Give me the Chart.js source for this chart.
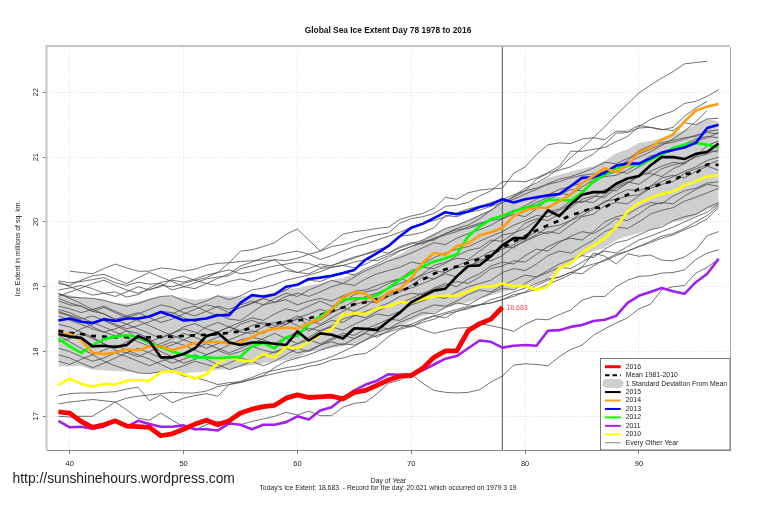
<!DOCTYPE html>
<html>
<head>
<meta charset="utf-8">
<title>Global Sea Ice Extent</title>
<script src="https://cdn.jsdelivr.net/npm/chart.js@4"></script>
<style>
  html, body { margin: 0; padding: 0; background: #fff; }
  canvas { display: block; }
</style>
</head>
<body>
<canvas id="ice-chart" width="760" height="506"></canvas>
<script>
const days = [39,40,41,42,43,44,45,46,47,48,49,
    50,51,52,53,54,55,56,57,58,59,
    60,61,62,63,64,65,66,67,68,69,
    70,71,72,73,74,75,76,77,78,79,
    80,81,82,83,84,85,86,87,88,89,
    90,91,92,93,94,95,96,97];
const xTickValues = [40,50,60,70,80,90];
const yTickValues = [17,18,19,20,21,22];

const ice2016 = [17.07,17.05,16.92,16.83,16.87,16.93,16.85,16.84,16.83,16.70,16.73,
    16.80,16.88,16.94,16.87,16.93,17.05,17.11,17.15,17.17,17.28,
    17.33,17.29,17.30,17.31,17.27,17.37,17.40,17.48,17.56,17.62,
    17.63,17.74,17.91,18.01,18.01,18.32,18.43,18.50,18.683];
const ice2015 = [18.27,18.23,18.21,18.08,18.09,18.07,18.10,18.24,18.16,17.91,17.91,
    17.96,18.05,18.24,18.29,18.14,18.10,18.14,18.14,18.12,18.10,
    18.31,18.17,18.28,18.26,18.20,18.36,18.35,18.33,18.47,18.60,
    18.76,18.85,18.94,18.97,19.16,19.32,19.33,19.47,19.64,19.75,
    19.75,19.96,20.18,20.09,20.27,20.42,20.46,20.46,20.59,20.67,
    20.71,20.87,21.00,21.00,20.97,21.05,21.08,21.21];
const ice2014 = [18.26,18.27,18.18,17.98,17.96,17.99,18.03,18.02,18.08,18.08,18.02,
    18.07,18.13,18.14,18.15,18.12,18.14,18.22,18.31,18.35,18.37,
    18.35,18.44,18.50,18.65,18.83,18.92,18.89,18.76,18.91,18.97,
    19.13,19.37,19.52,19.49,19.63,19.67,19.79,19.84,19.91,20.09,
    20.18,20.22,20.22,20.32,20.42,20.60,20.71,20.83,20.77,20.87,
    21.08,21.14,21.27,21.35,21.55,21.72,21.78,21.82];
const ice2013 = [18.48,18.51,18.46,18.44,18.50,18.47,18.51,18.51,18.54,18.61,18.55,
    18.48,18.49,18.51,18.56,18.56,18.75,18.87,18.85,18.88,19.00,
    19.03,19.12,19.14,19.17,19.21,19.26,19.42,19.52,19.63,19.78,
    19.91,19.97,20.06,20.15,20.12,20.16,20.23,20.27,20.35,20.30,
    20.35,20.38,20.41,20.43,20.55,20.68,20.69,20.76,20.87,20.90,
    20.90,20.98,21.07,21.11,21.15,21.22,21.45,21.50];
const ice2012 = [18.20,18.08,17.98,18.10,18.19,18.23,18.25,18.22,18.13,18.07,18.00,
    17.95,17.91,17.91,17.90,17.91,17.92,18.08,18.13,18.05,18.22,
    18.24,18.42,18.54,18.65,18.80,18.82,18.82,18.87,18.98,19.11,
    19.21,19.31,19.39,19.44,19.50,19.78,19.93,20.04,20.09,20.16,
    20.22,20.25,20.34,20.34,20.33,20.45,20.63,20.73,20.83,20.87,
    20.88,20.96,21.04,21.14,21.19,21.22,21.19,21.15];
const ice2011 = [16.93,16.83,16.84,16.81,16.84,16.93,16.84,16.93,16.88,16.84,16.84,
    16.86,16.80,16.80,16.78,16.89,16.87,16.80,16.87,16.87,16.91,
    17.00,16.95,17.09,17.14,17.28,17.40,17.49,17.55,17.65,17.64,
    17.65,17.71,17.80,17.89,17.93,18.05,18.17,18.15,18.06,18.09,
    18.10,18.09,18.32,18.33,18.38,18.41,18.47,18.49,18.55,18.75,
    18.86,18.92,18.98,18.93,18.89,19.07,19.20,19.43];
const ice2010 = [17.48,17.58,17.50,17.46,17.50,17.49,17.55,17.56,17.55,17.68,17.70,
    17.65,17.58,17.65,17.82,17.91,17.86,17.85,17.96,17.91,18.07,
    18.05,18.15,18.26,18.34,18.57,18.59,18.58,18.67,18.70,18.76,
    18.76,18.81,18.85,18.86,18.86,18.93,19.00,19.00,19.05,19.01,
    19.01,18.95,19.00,19.29,19.36,19.53,19.63,19.75,19.92,20.16,
    20.29,20.37,20.43,20.47,20.56,20.63,20.70,20.72];
const meanIce = [18.32,18.29,18.27,18.24,18.23,18.22,18.22,18.21,18.22,18.23,18.23,
    18.24,18.25,18.26,18.27,18.29,18.31,18.37,18.41,18.43,18.47,
    18.48,18.51,18.56,18.63,18.68,18.73,18.76,18.81,18.87,18.93,
    19.00,19.11,19.20,19.27,19.31,19.37,19.43,19.49,19.60,19.70,
    19.78,19.87,19.95,20.02,20.10,20.16,20.22,20.22,20.34,20.42,
    20.51,20.52,20.59,20.63,20.74,20.75,20.89,20.88];
const sdUpper = [18.90,18.87,18.83,18.82,18.79,18.75,18.74,18.77,18.82,18.85,18.85,
    18.83,18.80,18.82,18.87,18.85,18.85,18.86,18.87,18.92,18.97,
    18.98,19.02,19.05,19.10,19.14,19.20,19.26,19.33,19.42,19.50,
    19.60,19.72,19.83,19.90,19.96,20.03,20.11,20.19,20.27,20.40,
    20.50,20.58,20.68,20.73,20.78,20.82,20.86,20.94,21.06,21.12,
    21.22,21.25,21.29,21.35,21.42,21.50,21.59,21.55];
const sdLower = [17.77,17.77,17.78,17.72,17.71,17.70,17.69,17.68,17.66,17.68,17.67,
    17.66,17.68,17.69,17.72,17.73,17.76,17.79,17.82,17.85,17.87,
    17.90,18.00,18.02,18.05,18.08,18.12,18.18,18.25,18.32,18.39,
    18.47,18.55,18.60,18.67,18.72,18.76,18.82,18.87,18.92,18.97,
    19.02,19.05,19.12,19.25,19.38,19.47,19.55,19.60,19.72,19.78,
    19.83,19.88,19.94,20.00,20.03,20.10,20.20,20.24];

// every other year, thin lines
const thinYears = [
    [null,19.24,19.22,19.20,19.28,19.35,19.29,19.24,19.24,19.29,19.27,
     19.24,19.27,19.33,19.36,19.37,19.55,19.57,19.62,19.68,19.81,
     19.89,19.72,19.55,19.68,19.81,19.85,19.87,19.90,19.92,20.04,
     20.09,20.13,20.21,20.38,20.35,20.45,20.49,20.51,20.52,20.75,
     20.85,21.04,21.19,21.22,21.21,21.28,21.30,21.27,21.40,21.40,
     21.49,21.46,21.43,21.41,21.53,21.50,21.59,21.60],
    [19.09,19.06,19.08,19.11,19.14,19.06,19.02,19.07,19.04,19.05,18.95,
     19.00,19.06,19.12,19.15,19.17,19.28,19.32,19.36,19.42,19.40,
     19.44,19.50,19.55,19.62,19.65,19.70,19.76,19.80,19.83,19.98,
     20.05,20.08,20.13,20.24,20.26,20.30,20.40,20.48,20.62,20.63,
     20.62,20.68,20.76,20.86,21.09,21.09,21.12,21.15,21.24,21.32,
     21.47,21.58,21.65,21.71,21.83,21.86,21.94,22.04],
    [18.89,18.84,18.83,18.82,18.79,18.74,18.70,18.74,18.80,18.85,18.86,
     18.78,18.72,18.78,18.86,18.80,18.86,18.95,18.98,19.03,19.10,
     19.14,19.18,19.23,19.30,19.33,19.29,19.35,19.44,19.51,19.60,
     19.66,19.72,19.80,19.90,19.95,20.02,20.10,20.18,20.29,20.40,
     20.52,20.60,20.70,20.83,20.99,21.14,21.30,21.47,21.65,21.82,
     21.99,22.11,22.22,22.32,22.44,22.46,22.48,null],
    [18.62,18.56,18.50,18.55,18.48,18.42,18.35,18.40,18.46,18.52,18.58,
     18.66,18.70,18.62,18.55,18.60,18.68,18.74,18.82,18.88,18.95,
     19.05,19.10,19.08,19.15,19.22,19.18,19.28,19.35,19.45,19.55,
     19.62,19.70,19.72,19.82,19.90,19.95,20.05,20.18,20.32,20.38,
     20.48,20.66,20.75,20.80,20.85,20.95,21.05,21.20,21.37,21.38,
     21.45,21.46,21.42,21.46,21.63,21.76,21.86,null],
    [19.07,19.00,18.93,18.87,18.90,18.92,18.84,18.88,18.98,19.07,19.10,
     19.07,19.12,19.18,19.22,19.26,19.20,19.23,19.28,19.32,19.35,
     19.38,19.36,19.30,19.33,19.38,19.44,19.51,19.57,19.62,19.78,
     19.80,19.84,19.91,20.10,20.08,20.15,20.18,20.24,20.30,20.35,
     20.43,20.50,20.59,20.66,20.70,20.76,20.83,20.92,20.90,20.98,
     21.05,21.12,21.20,21.23,21.28,21.34,21.38,21.36],
    [19.05,19.02,19.10,19.17,19.19,19.12,19.05,19.14,19.22,19.15,19.08,
     19.00,18.97,19.05,19.13,19.20,19.32,19.38,19.45,19.48,19.52,
     19.55,19.50,19.42,19.48,19.55,19.62,19.66,19.72,19.78,19.84,
     19.92,19.98,20.02,20.08,20.14,20.20,20.24,20.30,20.35,20.42,
     20.48,20.52,20.58,20.62,20.68,20.72,20.74,20.78,20.85,20.92,
     21.00,21.08,21.18,21.28,21.40,21.55,21.72,null],
    [18.95,18.98,19.02,18.97,18.90,18.85,18.92,19.00,18.95,19.02,19.00,
     19.05,19.10,19.14,19.22,19.37,19.39,19.40,19.41,19.41,19.29,
     19.22,19.20,19.28,19.30,19.33,19.38,19.42,19.40,19.48,19.56,
     19.62,19.68,19.75,19.80,19.85,19.92,19.98,20.02,20.05,20.15,
     20.25,20.35,20.42,20.50,20.55,20.60,20.68,20.72,20.82,20.95,
     21.10,21.18,21.22,21.26,21.30,21.32,21.40,21.42],
    [18.85,18.92,18.98,19.05,19.10,19.02,18.95,18.90,18.96,19.00,19.12,
     19.16,19.10,19.05,19.02,19.08,19.12,19.08,19.15,19.20,19.25,
     19.22,19.28,19.35,19.32,19.40,19.46,19.50,19.55,19.52,19.62,
     19.68,19.66,19.74,19.82,19.88,19.90,19.96,20.05,20.10,20.18,
     20.22,20.30,20.38,20.44,20.42,20.54,20.65,20.70,20.72,20.80,
     20.90,21.02,21.05,21.10,21.20,21.28,21.32,21.30],
    [18.78,18.72,18.70,18.62,18.58,18.49,18.42,18.50,18.55,18.62,18.60,
     18.52,18.46,18.52,18.58,18.50,18.48,18.60,18.72,18.76,18.80,
     18.72,18.78,18.82,18.78,18.86,18.93,18.95,19.02,19.08,19.12,
     19.08,19.20,19.33,19.38,19.44,19.42,19.55,19.68,19.80,19.83,
     19.90,20.02,20.15,20.20,20.32,20.30,20.38,20.50,20.48,20.60,
     20.70,20.78,20.86,20.92,20.90,21.02,21.18,21.25],
    [18.60,18.55,18.48,18.38,18.30,18.24,18.32,18.20,18.15,18.22,18.28,
     18.38,18.43,18.35,18.30,18.38,18.45,18.52,18.48,18.58,18.66,
     18.62,18.70,18.78,18.70,18.76,18.88,18.92,18.96,19.05,19.12,
     19.25,19.30,19.28,19.36,19.48,19.56,19.60,19.72,19.70,19.82,
     19.98,20.05,20.02,20.12,20.22,20.35,20.40,20.38,20.52,20.60,
     20.72,20.75,20.70,20.82,20.90,21.02,21.10,21.08],
    [18.30,18.25,18.35,18.42,18.48,18.40,18.32,18.28,18.20,18.05,18.10,
     18.18,18.26,18.38,18.45,18.38,18.30,18.28,18.38,18.45,18.42,
     18.50,18.42,18.48,18.60,18.68,18.62,18.70,18.82,18.88,18.95,
     18.98,19.05,19.12,19.20,19.15,19.30,19.42,19.40,19.48,19.62,
     19.70,19.78,19.85,19.82,19.95,20.08,20.12,20.25,20.30,20.28,
     20.40,20.52,20.58,20.62,20.75,20.82,20.88,20.95],
    [18.90,18.82,18.74,18.65,18.70,18.62,18.55,18.48,18.40,18.32,18.25,
     18.18,18.12,18.05,18.12,18.18,18.25,18.32,18.28,18.38,18.46,
     18.55,18.48,18.42,18.52,18.62,18.72,18.78,18.75,18.85,18.92,
     19.02,19.15,19.12,19.22,19.30,19.32,19.38,19.50,19.62,19.60,
     19.72,19.80,19.92,19.95,20.02,20.10,20.20,20.32,20.35,20.40,
     20.42,20.55,20.68,20.72,20.68,20.78,20.86,20.80],
    [18.42,18.38,18.30,18.22,18.12,18.02,17.98,17.92,18.00,18.08,18.15,
     18.10,18.02,17.95,18.02,18.10,18.18,18.22,18.18,18.12,18.22,
     18.30,18.36,18.32,18.40,18.50,18.56,18.52,18.62,18.70,18.74,
     18.82,18.90,18.96,19.02,19.08,19.05,19.15,19.28,19.32,19.40,
     19.38,19.50,19.62,19.70,19.75,19.72,19.85,20.00,20.08,20.12,
     20.22,20.30,20.28,20.40,20.48,20.52,20.60,20.62],
    [18.15,18.20,18.28,18.20,18.12,18.05,18.15,18.22,18.12,18.00,17.92,
     17.98,18.05,18.12,18.05,17.98,18.05,18.12,18.20,18.28,18.20,
     18.12,18.22,18.32,18.38,18.33,18.42,18.50,18.58,18.55,18.62,
     18.72,18.78,18.85,18.82,18.92,19.00,19.05,19.10,19.22,19.28,
     19.25,19.35,19.48,19.55,19.52,19.62,19.72,19.85,19.92,19.90,
     20.00,20.12,20.18,20.22,20.32,20.38,20.45,20.52],
    [18.05,18.00,17.92,17.85,17.90,17.98,17.92,17.85,17.78,17.85,17.90,
     17.82,17.88,17.95,18.02,17.95,18.00,18.08,18.02,17.98,18.05,
     18.12,18.18,18.12,18.20,18.28,18.25,18.35,18.42,18.50,18.48,
     18.58,18.65,18.72,18.70,18.78,18.88,18.95,18.92,19.02,19.10,
     19.18,19.15,19.25,19.35,19.42,19.48,19.45,19.58,19.68,19.72,
     19.80,19.88,19.92,20.02,20.08,20.12,20.22,20.30],
    [17.85,17.80,17.88,17.95,18.02,18.10,18.02,17.95,17.88,17.80,17.72,
     17.78,17.85,17.80,17.75,17.82,17.90,17.85,17.92,18.00,18.05,
     17.98,18.02,18.10,18.15,18.10,18.20,18.28,18.22,18.32,18.40,
     18.38,18.48,18.55,18.52,18.62,18.68,18.72,18.75,18.80,18.85,
     18.92,19.02,19.10,19.15,19.22,19.20,19.32,19.42,19.50,19.55,
     19.62,19.70,19.78,19.82,19.90,20.00,20.10,20.25],
    [18.70,18.66,18.60,18.65,18.58,18.50,18.55,18.60,18.52,18.45,18.50,
     18.58,18.65,18.72,18.68,18.60,18.68,18.75,18.82,18.76,18.85,
     18.90,18.85,18.92,19.00,19.05,19.02,19.12,19.20,19.25,19.30,
     19.38,19.35,19.45,19.52,19.58,19.62,19.70,19.78,19.85,19.95,
     20.02,20.10,20.08,20.18,20.28,20.32,20.30,20.42,20.55,20.62,
     20.58,20.70,20.82,20.88,20.92,21.00,21.05,21.12],
    [18.55,18.48,18.42,18.35,18.30,18.35,18.42,18.35,18.28,18.20,18.28,
     18.35,18.30,18.22,18.30,18.38,18.32,18.40,18.45,18.40,18.48,
     18.40,18.32,18.40,18.48,18.45,18.55,18.62,18.68,18.75,18.85,
     18.90,18.88,18.98,19.05,19.00,19.12,19.20,19.32,19.38,19.35,
     19.48,19.58,19.55,19.68,19.78,19.85,19.82,19.92,20.05,20.02,
     20.12,20.25,20.30,20.28,20.40,20.50,20.58,20.55],
    [18.25,18.15,18.05,17.95,17.85,17.78,17.72,17.67,17.66,17.69,17.70,
     17.62,17.60,17.55,17.49,17.52,17.53,17.57,17.63,17.75,17.85,
     17.90,17.95,18.02,18.08,18.12,18.10,18.18,18.25,18.30,18.36,
     18.42,18.50,18.55,18.60,18.65,18.70,18.72,18.80,18.85,18.92,
     18.98,19.05,19.12,19.15,19.22,19.30,19.35,19.40,19.48,19.55,
     19.62,19.68,19.75,19.80,19.88,19.95,20.05,20.22],
    [18.65,18.60,18.52,18.45,18.38,18.30,18.22,18.15,18.08,18.12,18.20,
     18.28,18.22,18.15,18.22,18.30,18.42,18.48,18.42,18.35,18.42,
     18.52,18.58,18.65,18.60,18.68,18.78,18.85,18.90,18.98,19.05,
     19.10,19.18,19.25,19.22,19.32,19.40,19.45,19.55,19.58,19.65,
     19.75,19.85,19.82,19.90,20.02,20.15,20.22,20.30,20.42,20.50,
     20.48,20.55,20.62,20.70,20.78,20.85,20.95,21.00],
    [18.82,18.75,18.70,18.62,18.68,18.60,18.52,18.58,18.65,18.72,18.68,
     18.60,18.55,18.62,18.70,18.65,18.72,18.78,18.72,18.82,18.90,
     18.85,18.95,19.02,19.10,19.05,19.15,19.25,19.32,19.40,19.45,
     19.52,19.60,19.68,19.65,19.75,19.82,19.88,19.95,20.05,20.12,
     20.08,20.20,20.35,20.42,20.50,20.48,20.60,20.72,20.78,20.75,
     20.85,20.95,21.05,21.10,21.18,21.25,21.30,21.38],
    [17.95,17.90,17.82,17.75,17.82,17.90,17.98,18.05,17.98,17.90,17.82,
     17.88,17.95,17.88,17.80,17.72,17.78,17.85,17.78,17.85,17.95,
     18.05,18.00,18.10,18.18,18.25,18.20,18.30,18.38,18.35,18.45,
     18.52,18.60,18.58,18.68,18.75,18.72,18.82,18.90,18.98,18.95,
     19.05,19.15,19.22,19.30,19.28,19.38,19.48,19.55,19.52,19.62,
     19.72,19.78,19.85,19.92,20.00,20.08,20.15,20.28],
    [17.32,17.35,17.36,17.36,17.37,17.38,17.42,17.45,17.24,17.33,17.21,
     17.28,17.32,17.35,17.31,17.49,17.54,17.60,17.67,17.71,17.75,
     17.78,17.82,17.86,17.92,18.00,18.08,18.18,18.30,18.35,18.40,
     18.41,18.34,18.28,18.32,18.36,18.37,18.43,18.40,18.36,18.31,
     18.42,18.50,18.49,18.57,18.64,18.79,18.85,18.85,19.00,19.10,
     19.16,19.17,19.21,19.22,19.26,19.42,19.52,19.57],
    [17.19,17.22,17.24,17.26,17.24,17.22,17.28,17.31,17.33,17.35,17.37,
     17.36,17.36,17.39,17.46,17.49,17.52,17.57,17.62,17.66,17.70,
     17.72,17.77,17.80,17.87,17.90,17.95,17.97,18.08,18.23,18.34,
     18.39,18.45,18.50,18.58,18.62,18.66,18.72,18.75,18.80,18.88,
     18.91,18.96,19.04,19.11,19.19,19.30,19.52,19.47,19.35,19.51,
     19.47,19.49,19.41,19.40,19.46,19.57,19.79,19.85],
    [17.00,16.99,17.00,17.00,17.11,17.22,17.10,16.97,16.94,17.05,16.94,
     16.84,16.79,16.87,16.92,16.90,16.87,16.92,16.96,17.00,17.06,
     17.02,17.08,17.01,17.01,17.14,17.20,17.22,17.35,17.51,17.56,
     17.65,17.51,17.40,17.37,17.36,17.37,17.41,17.53,17.62,17.79,
     17.81,17.80,17.78,17.92,18.03,18.10,18.25,18.35,18.44,18.52,
     18.66,18.73,18.95,19.00,19.02,19.21,19.30,19.43]
];

const xTitle = 'Day of Year';
const yTitle = 'Ice Extent in millions of sq. km.';
const mainTitle = 'Global Sea Ice Extent Day 78 1978 to 2016';
const footNote = "Today's Ice Extent: 18.683  - Record for the day: 20.621 which occurred on 1979 3 19";
const siteUrl = 'http://sunshinehours.wordpress.com';
const todayDay = 78;
const todayLabel = '18.683';

const legendLabels = ['2016','Mean 1981-2010','1 Standard Deviation From Mean','2015','2014','2013','2012','2011','2010','Every Other Year'];
const legendColors = ['#ff0000','#000000','#cfcfcf','#000000','#ff9f0f','#0000ff','#00ff00','#a020f0','#ffff00','#555555'];

const FONT = '"Liberation Sans", Arial, sans-serif';
const xMin = 38, xMax = 98, yMin = 16.48, yMax = 22.7;

function toPoints(values) {
    return values.map((v, i) => ({ x: days[i], y: v }));
}

function lineSet(label, values, color, width) {
    return {
        label: label,
        data: toPoints(values),
        borderColor: color,
        borderWidth: width,
        pointRadius: 0,
        fill: false,
        tension: 0,
        borderJoinStyle: 'round'
    };
}

const meanSet = lineSet('Mean 1981-2010', meanIce, '#000000', 2.6);
meanSet.borderDash = [5, 6];

const upperSet = lineSet('1 Standard Deviation From Mean', sdUpper, 'rgba(0,0,0,0)', 0);
upperSet.fill = '+1';
upperSet.backgroundColor = '#cfcfcf';
const lowerSet = lineSet('lower', sdLower, 'rgba(0,0,0,0)', 0);

const todaySet = {
    label: 'today',
    data: [{ x: todayDay, y: yMin }, { x: todayDay, y: yMax }],
    borderColor: '#555555',
    borderWidth: 1,
    pointRadius: 0
};

const datasets = [
    lineSet('2016', ice2016, '#ff0000', 4.8),
    lineSet('2015', ice2015, '#000000', 2.6),
    lineSet('2014', ice2014, '#ff9f0f', 2.6),
    lineSet('2013', ice2013, '#0000ff', 2.6),
    lineSet('2012', ice2012, '#00ff00', 2.6),
    lineSet('2011', ice2011, '#a020f0', 2.6),
    lineSet('2010', ice2010, '#ffff00', 2.6),
    meanSet,
    todaySet
].concat(
    thinYears.map((values, i) => lineSet('year ' + i, values, '#4d4d4d', 0.8)),
    [upperSet, lowerSet]
);

function putText(ctx, text, x, y, size, color, align, weight) {
    ctx.font = (weight || 'normal') + ' ' + size + 'px ' + FONT;
    ctx.fillStyle = color;
    ctx.textAlign = align || 'left';
    ctx.textBaseline = 'middle';
    ctx.fillText(text, x, y);
}

function frameSide(ctx, color, width, x1, y1, x2, y2) {
    ctx.strokeStyle = color;
    ctx.lineWidth = width;
    ctx.beginPath();
    ctx.moveTo(x1, y1);
    ctx.lineTo(x2, y2);
    ctx.stroke();
}

const extras = {
    id: 'extras',
    afterDraw(chart) {
        const ctx = chart.ctx;
        const area = chart.chartArea;
        const xScale = chart.scales.x;
        const yScale = chart.scales.y;
        ctx.save();

        // plot frame
        frameSide(ctx, '#c4c4c4', 2, area.left, area.top - 1, area.right, area.top - 1);
        frameSide(ctx, '#c4c4c4', 2, area.left - 0.5, area.top - 2, area.left - 0.5, area.bottom);
        frameSide(ctx, '#a8a8a8', 1, area.right + 0.5, area.top, area.right + 0.5, area.bottom);
        frameSide(ctx, '#8a8a8a', 1, area.left, area.bottom + 0.5, area.right + 1, area.bottom + 0.5);

        // value at today's end of the 2016 line
        putText(ctx, todayLabel, xScale.getPixelForValue(todayDay) + 4, yScale.getPixelForValue(18.683) + 1, 7, '#ff4a4a');

        // legend box
        const boxLeft = 600.5, boxTop = 358.5;
        ctx.fillStyle = '#ffffff';
        ctx.fillRect(boxLeft, boxTop, area.right - boxLeft, area.bottom - boxTop);
        ctx.strokeStyle = '#777777';
        ctx.lineWidth = 1;
        ctx.strokeRect(boxLeft, boxTop, area.right - boxLeft, area.bottom - boxTop);

        legendLabels.forEach((label, i) => {
            const rowY = 366.7 + i * 8.45;
            ctx.strokeStyle = legendColors[i];
            ctx.setLineDash([]);
            ctx.lineCap = 'butt';
            if (i === 2) {
                ctx.lineWidth = 9;
                ctx.lineCap = 'round';
                ctx.beginPath();
                ctx.moveTo(607, rowY);
                ctx.lineTo(619, rowY);
                ctx.stroke();
            } else {
                ctx.lineWidth = i === 0 ? 3 : (i === 9 ? 0.7 : 2);
                if (i === 1) ctx.setLineDash([4.5, 3]);
                ctx.beginPath();
                ctx.moveTo(605, rowY);
                ctx.lineTo(620.7, rowY);
                ctx.stroke();
            }
            ctx.setLineDash([]);
            putText(ctx, label, 625.7, rowY, 6.9, '#222222');
        });

        // title and the notes below the plot
        putText(ctx, mainTitle, 388, 31, 8.4, '#111111', 'center', 'bold');
        putText(ctx, footNote, 388, 488, 6.8, '#222222', 'center');
        putText(ctx, siteUrl, 12.5, 479, 13.85, '#222222');
        ctx.restore();
    }
};

new Chart(document.getElementById('ice-chart'), {
    type: 'line',
    data: { datasets: datasets },
    plugins: [extras],
    options: {
        responsive: false,
        animation: false,
        layout: { padding: { top: 47, right: 30, left: 0, bottom: 0 } },
        plugins: {
            legend: { display: false },
            title: { display: false },
            tooltip: { enabled: false }
        },
        scales: {
            x: {
                type: 'linear',
                min: xMin,
                max: xMax,
                afterFit(scale) { scale.height = 56; },
                afterBuildTicks(scale) { scale.ticks = xTickValues.map(v => ({ value: v })); },
                ticks: { color: '#222222', font: { family: FONT, size: 7.5 }, padding: 5, maxRotation: 0 },
                grid: { color: '#dddddd', tickColor: '#777777', tickLength: 4 },
                border: { display: false, dash: [1, 2] },
                title: { display: true, text: xTitle, color: '#222222', font: { family: FONT, size: 6.8 }, padding: { top: 0, bottom: 21 } }
            },
            y: {
                type: 'linear',
                min: yMin,
                max: yMax,
                afterFit(scale) { scale.width = 47; },
                afterBuildTicks(scale) { scale.ticks = yTickValues.map(v => ({ value: v })); },
                ticks: { color: '#222222', font: { family: FONT, size: 7.5 }, padding: 3, minRotation: 90, maxRotation: 90, crossAlign: 'center' },
                grid: { color: '#dddddd', tickColor: '#777777', tickLength: 4 },
                border: { display: false, dash: [1, 2] },
                title: { display: true, text: yTitle, color: '#222222', font: { family: FONT, size: 7 }, padding: { top: 14, bottom: 0 } }
            }
        }
    }
});
</script>
</body>
</html>
